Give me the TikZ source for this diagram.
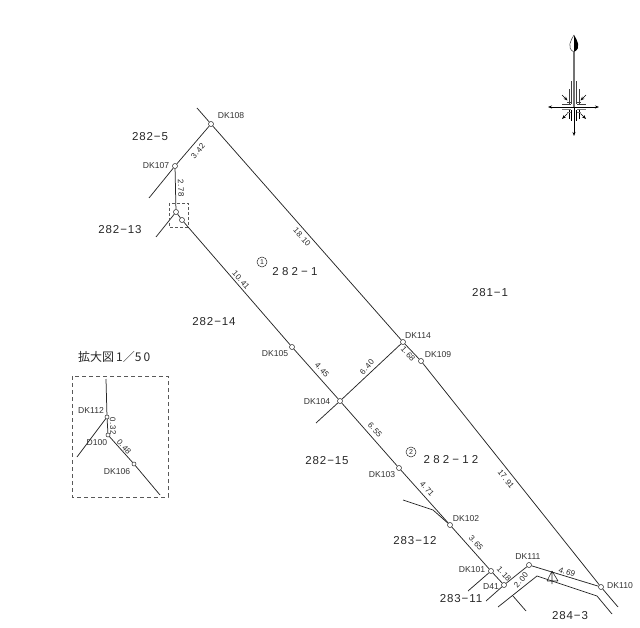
\documentclass[tikz,border=0pt]{standalone}
\usepackage{fontspec}
\setmainfont{Liberation Sans}
\newfontfamily\cjk{Noto Sans CJK JP}
\newfontfamily\lotfont[LetterSpace=8]{Liberation Sans}
\usetikzlibrary{arrows.meta}

\begin{document}
\begin{tikzpicture}[x=1pt,y=-1pt]
    \tikzstyle{edge}=[line width=0.75pt,draw=black!85]
    \tikzstyle{pt}=[circle,draw=black!85,fill=white,line width=0.5pt,inner sep=0pt,minimum size=5pt]
    \tikzstyle{ptname}=[font=\fontsize{8.6}{10}\selectfont,text=black!80,inner sep=0pt]
    \tikzstyle{dist}=[font=\fontsize{8}{10}\selectfont,text=black!85,inner sep=0pt]
    \tikzstyle{lot}=[font=\lotfont\fontsize{11.5}{13}\selectfont,text=black!85,inner sep=0pt]
    \tikzstyle{lotno}=[circle,draw=black!85,line width=0.5pt,inner sep=0pt,minimum size=10pt,text=black!85,font=\fontsize{7}{8}\selectfont]
    \tikzstyle{frame}=[line width=0.7pt,draw=black!65,dash pattern=on 4pt off 3pt]

    \useasboundingbox (0,0) rectangle (640,628);

    % points of the main survey
    \coordinate (end108) at (197,108);
    \coordinate (end107) at (149,198);
    \coordinate (end112) at (156,237);
    \coordinate (end104) at (316,423);
    \coordinate (end110) at (618,607);
    \coordinate (end101) at (468,591);
    \coordinate (end41) at (486,601);
    \node[pt] (dk108) at (211,124) {};
    \node[pt] (dk107) at (175,166) {};
    \node[pt] (dk112) at (176,212) {};
    \node[pt] (dk106) at (182,220) {};
    \node[pt] (dk114) at (403,342) {};
    \node[pt] (dk109) at (421,361) {};
    \node[pt] (dk110) at (601,587) {};
    \node[pt] (dk105) at (292,347) {};
    \node[pt] (dk104) at (340,401) {};
    \node[pt] (dk103) at (399,468) {};
    \node[pt] (dk102) at (450,525) {};
    \node[pt] (dk101) at (491,571) {};
    \node[pt] (d41) at (504,585) {};
    \node[pt] (dk111) at (529,565) {};

    % boundaries
    \draw[edge] (end108)--(dk108)--(dk114)--(dk109)--(dk110)--(end110);
    \draw[edge] (dk108)--(dk107)--(end107);
    \draw[edge] (dk107)--(dk112)--(end112);
    \draw[edge] (dk112)--(dk106)--(dk105)--(dk104)--(dk103)--(dk102)--(dk101)--(d41);
    \draw[edge] (end104)--(dk104)--(dk114);
    \draw[edge] (end101)--(dk101);
    \draw[edge] (end41)--(d41)--(dk111)--(dk110);

    % neighbouring lots
    \coordinate (wall1) at (403,500);
    \coordinate (wall2) at (433,510);
    \coordinate (road1) at (498,607);
    \coordinate (road2) at (537,576);
    \coordinate (road3) at (597,596);
    \coordinate (road4) at (612,614);
    \coordinate (road5) at (513,596);
    \coordinate (road6) at (526,611);
    \draw[edge] (wall1)--(wall2)--(dk102);
    \draw[edge] (road1)--(road2)--(road3)--(road4);
    \draw[edge] (road5)--(road6);

    % tree mark
    \coordinate (tree1) at (552,571);
    \coordinate (tree2) at (552,584);
    \coordinate (tree3) at (547,581);
    \coordinate (tree4) at (558,581);
    \draw[edge,line width=0.6pt] (tree1)--(tree2) (tree1)--(tree3) (tree1)--(tree4) (tree3)--(tree4);

    % labels of points
    \node[ptname] (l108) at (231,116) {DK108};
    \node[ptname] (l107) at (156,166) {DK107};
    \node[ptname] (l114) at (418,336) {DK114};
    \node[ptname] (l109) at (438,355) {DK109};
    \node[ptname] (l105) at (275,354) {DK105};
    \node[ptname] (l104) at (317,402) {DK104};
    \node[ptname] (l103) at (382,475) {DK103};
    \node[ptname] (l102) at (466,519) {DK102};
    \node[ptname] (l101) at (472,570) {DK101};
    \node[ptname] (l41) at (491,587) {D41};
    \node[ptname] (l111) at (528,557) {DK111};
    \node[ptname] (l110) at (620,586) {DK110};

    % distances
    \node[dist,rotate=50] at (198,151) {3.\,42};
    \node[dist,rotate=-88] at (181,188) {2.\,78};
    \node[dist,rotate=-48] at (302,237) {18.\,10};
    \node[dist,rotate=-48] at (241,280) {10.\,41};
    \node[dist,rotate=-48] at (322,370) {4.\,45};
    \node[dist,rotate=48] at (367,367) {6.\,40};
    \node[dist,rotate=-48] at (408,354) {1.\,68};
    \node[dist,rotate=-48] at (375,430) {6.\,55};
    \node[dist,rotate=-48] at (427,489) {4.\,71};
    \node[dist,rotate=-48] at (476,543) {3.\,65};
    \node[dist,rotate=-48] at (504,574) {1.\,18};
    \node[dist,rotate=48] at (521,580) {2.\,00};
    \node[dist,rotate=-18] at (567,572) {4.\,69};
    \node[dist,rotate=-52] at (506,479) {17.\,91};

    % lots
    \node[lot] at (150,137) {282−5};
    \node[lot] at (120,230) {282−13};
    \node[lot] at (214,322) {282−14};
    \node[lot] at (327,461) {282−15};
    \node[lot] at (415,541) {283−12};
    \node[lot] at (461,599) {283−11};
    \node[lot] at (570,616) {284−3};
    \node[lot] at (490,293) {281−1};
    \node[lotno] (no1) at (262,262) {1};
    \node[lot] at (295,272) {2\;8\;2\;−\;1};
    \node[lotno] (no2) at (411,452) {2};
    \node[lot] at (451,460) {2\;8\;2\;−\;1\;2};

    % small frame
    \draw[frame,line width=0.5pt,dash pattern=on 3pt off 2pt] (169,203) rectangle (188,227);

    % enlarged part
    \draw[frame] (72,376) rectangle (168,497);
    \node[pt,minimum size=4pt] (in112) at (107,417) {};
    \node[pt,minimum size=4pt] (in100) at (108,435) {};
    \node[pt,minimum size=4pt] (in106) at (134,464) {};
    \coordinate (in1) at (106,379);
    \coordinate (in2) at (77,457);
    \coordinate (in3) at (160,495);
    \draw[edge] (in1)--(in112)--(in2);
    \draw[edge] (in112)--(in100)--(in106)--(in3);
    \node[font=\cjk\fontsize{12}{14}\selectfont,text=black!85,anchor=west,inner sep=0pt] (title) at (78,357) {拡大図\,1／5\,0};
    \node[ptname] at (91,410) {DK112};
    \node[ptname] at (97,443) {D100};
    \node[ptname] at (117,472) {DK106};
    \node[dist,rotate=-88] at (113,426) {0.\,32};
    \node[dist,rotate=-48] at (124,447) {0.\,48};

    % north mark
    \coordinate (arrowtip) at (574,35);
    \coordinate (arrowbase) at (574,52);
    \coordinate (crossc) at (574,107);
    \coordinate (crossw) at (548,107);
    \coordinate (crosse) at (599,107);
    \coordinate (crosss) at (574,136);
    \fill[black] (arrowtip) .. controls (577,40) and (582,48) .. (574,52) -- cycle;
    \draw[line width=0.5pt,black!80] (arrowtip) .. controls (571,40) and (566,48) .. (574,52);
    \draw[line width=2.2pt,black!55] (arrowbase)--(crossc);
    \draw[line width=0.7pt,-{Stealth[length=4pt]}] (crossc)--(crosss);
    \draw[line width=0.7pt,-{Stealth[length=4pt]}] (crossc)--(crossw);
    \draw[line width=0.7pt,-{Stealth[length=4pt]}] (crossc)--(crosse);
    \foreach \d in {2.5,5} {
      \draw[line width=0.7pt,black!75] (574-\d,104) -- (574-\d,72+3.5*\d);
      \draw[line width=0.7pt,black!75] (574+\d,104) -- (574+\d,72+3.5*\d);
      \draw[line width=0.8pt,black] (574-\d,110) -- (574-\d,124-\d);
      \draw[line width=0.8pt,black] (574+\d,110) -- (574+\d,124-\d);
      \draw[line width=0.8pt,black!75] (571,107-\d) -- (557+2*\d,107-\d);
      \draw[line width=0.8pt,black!75] (577,107-\d) -- (591-2*\d,107-\d);
      \draw[line width=0.8pt,black!50] (571,107+\d) -- (557+2*\d,107+\d);
      \draw[line width=0.8pt,black!50] (577,107+\d) -- (591-2*\d,107+\d);
    }
    \foreach \sx/\sy in {-1/-1,1/-1} {
      \draw[line width=0.6pt,-{Stealth[length=4pt]}] (574+12*\sx,107+12*\sy) -- (574+6.5*\sx,107+6.5*\sy);
    }
    \foreach \sx/\sy in {-1/1,1/1} {
      \draw[line width=0.6pt,-{Stealth[length=4pt]}] (574+6.5*\sx,107+6.5*\sy) -- (574+12*\sx,107+12*\sy);
    }
\end{tikzpicture}
\end{document}
